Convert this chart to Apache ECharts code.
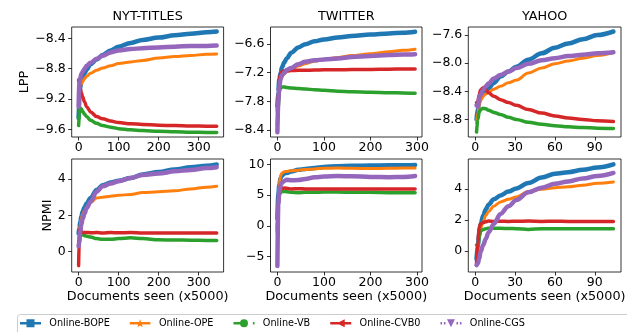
<!DOCTYPE html>
<html>
<head>
<meta charset="utf-8">
<script src="https://cdn.jsdelivr.net/npm/echarts@6/dist/echarts.min.js"></script>
<style>
  html, body { margin: 0; padding: 0; background: #fff; }
  #chart { width: 627px; height: 332px; }
</style>
</head>
<body>
<div id="chart"></div>
<script>
// ---- x positions (documents seen, x5000) ----
const NYT_X     = [0, 2, 4, 7, 10, 15, 20, 30, 45, 60, 80, 100, 130, 160, 200, 240, 280, 320, 345];
const TWITTER_X = [0, 2, 4, 7, 10, 15, 20, 30, 45, 60, 80, 100, 130, 160, 200, 240, 270, 296];
const YAHOO_X   = [1, 2, 3, 4, 6, 8, 10, 14, 19, 25, 31, 40, 50, 60, 70, 81, 92, 104];

// ---- LPP ----
const NYT_LPP_BOPE = [-9.45, -9.2, -9.05, -8.97, -8.91, -8.86, -8.81, -8.74, -8.68, -8.62, -8.56, -8.51, -8.46, -8.42, -8.39, -8.36, -8.34, -8.32, -8.31];
const NYT_LPP_OPE  = [-9.3, -9.15, -9.05, -9.0, -8.97, -8.93, -8.9, -8.86, -8.82, -8.79, -8.76, -8.73, -8.71, -8.69, -8.66, -8.64, -8.625, -8.61, -8.605];
const NYT_LPP_VB   = [-9.55, -9.4, -9.32, -9.33, -9.36, -9.4, -9.43, -9.48, -9.52, -9.55, -9.57, -9.59, -9.605, -9.615, -9.625, -9.632, -9.637, -9.64, -9.64];
const NYT_LPP_CVB0 = [-8.95, -9.0, -9.06, -9.12, -9.17, -9.24, -9.3, -9.37, -9.43, -9.46, -9.49, -9.51, -9.525, -9.535, -9.545, -9.55, -9.555, -9.557, -9.558];
const NYT_LPP_CGS  = [-9.3, -9.0, -8.92, -8.87, -8.84, -8.8, -8.76, -8.72, -8.67, -8.63, -8.585, -8.56, -8.54, -8.53, -8.52, -8.51, -8.5, -8.5, -8.495];

const TWITTER_LPP_BOPE = [-7.9, -7.6, -7.35, -7.2, -7.08, -6.98, -6.9, -6.78, -6.67, -6.6, -6.54, -6.5, -6.46, -6.43, -6.4, -6.375, -6.36, -6.34];
const TWITTER_LPP_OPE  = [-7.95, -7.7, -7.5, -7.35, -7.28, -7.22, -7.18, -7.14, -7.06, -7.01, -6.96, -6.92, -6.88, -6.84, -6.8, -6.76, -6.73, -6.705];
const TWITTER_LPP_VB   = [-8.3, -7.9, -7.6, -7.52, -7.5, -7.5, -7.51, -7.52, -7.53, -7.54, -7.56, -7.57, -7.59, -7.6, -7.61, -7.62, -7.625, -7.63];
const TWITTER_LPP_CVB0 = [-8.0, -7.6, -7.35, -7.22, -7.18, -7.16, -7.16, -7.155, -7.15, -7.15, -7.145, -7.14, -7.14, -7.135, -7.13, -7.125, -7.12, -7.12];
const TWITTER_LPP_CGS  = [-8.45, -7.8, -7.5, -7.33, -7.25, -7.2, -7.14, -7.1, -7.02, -6.97, -6.94, -6.92, -6.9, -6.87, -6.85, -6.83, -6.82, -6.81];

const YAHOO_LPP_BOPE = [-8.8, -8.65, -8.55, -8.5, -8.43, -8.4, -8.36, -8.28, -8.19, -8.12, -8.05, -7.95, -7.86, -7.78, -7.72, -7.66, -7.6, -7.55];
const YAHOO_LPP_OPE  = [-8.85, -8.7, -8.6, -8.53, -8.47, -8.44, -8.41, -8.37, -8.33, -8.28, -8.24, -8.14, -8.07, -8.01, -7.97, -7.93, -7.89, -7.85];
const YAHOO_LPP_VB   = [-8.98, -8.8, -8.7, -8.66, -8.64, -8.65, -8.67, -8.7, -8.73, -8.77, -8.8, -8.84, -8.87, -8.89, -8.905, -8.915, -8.925, -8.93];
const YAHOO_LPP_CVB0 = [-8.56, -8.55, -8.45, -8.38, -8.35, -8.38, -8.42, -8.47, -8.52, -8.56, -8.6, -8.66, -8.71, -8.75, -8.78, -8.8, -8.82, -8.83];
const YAHOO_LPP_CGS  = [-8.6, -8.62, -8.5, -8.45, -8.38, -8.33, -8.29, -8.22, -8.17, -8.12, -8.07, -8.01, -7.96, -7.93, -7.9, -7.88, -7.86, -7.845];

// ---- NPMI ----
const NYT_NPMI_BOPE = [1.0, 1.3, 1.65, 1.95, 2.2, 2.45, 2.65, 2.95, 3.4, 3.65, 3.8, 3.9, 4.05, 4.25, 4.38, 4.52, 4.65, 4.73, 4.8];
const NYT_NPMI_OPE  = [0.8, 1.0, 1.5, 1.8, 2.05, 2.25, 2.45, 2.7, 2.95, 3.0, 3.05, 3.1, 3.15, 3.25, 3.3, 3.35, 3.45, 3.55, 3.6];
const NYT_NPMI_VB   = [0.5, 0.8, 1.0, 0.95, 0.92, 0.88, 0.85, 0.8, 0.72, 0.68, 0.68, 0.72, 0.76, 0.72, 0.65, 0.64, 0.63, 0.62, 0.62];
const NYT_NPMI_CVB0 = [-0.77, 0.9, 1.3, 1.1, 1.05, 1.05, 1.06, 1.04, 1.05, 1.03, 1.05, 1.04, 1.05, 1.02, 1.03, 1.02, 1.03, 1.02, 1.03];
const NYT_NPMI_CGS  = [0.3, 0.55, 1.1, 1.5, 1.8, 2.1, 2.4, 2.75, 3.3, 3.6, 3.75, 3.88, 4.05, 4.22, 4.3, 4.42, 4.5, 4.6, 4.65];

const TWITTER_NPMI_BOPE = [1.2, 5.0, 6.6, 7.8, 8.2, 8.5, 8.6, 8.85, 9.1, 9.25, 9.4, 9.55, 9.7, 9.75, 9.8, 9.85, 9.85, 9.9];
const TWITTER_NPMI_OPE  = [-1.5, 4.5, 6.8, 8.2, 8.6, 8.8, 8.85, 8.95, 9.05, 9.15, 9.25, 9.35, 9.38, 9.35, 9.3, 9.35, 9.4, 9.4];
const TWITTER_NPMI_VB   = [-0.5, 3.5, 5.0, 5.4, 5.6, 5.6, 5.55, 5.45, 5.4, 5.45, 5.45, 5.5, 5.5, 5.45, 5.45, 5.4, 5.4, 5.4];
const TWITTER_NPMI_CVB0 = [-1.0, 4.0, 5.5, 5.9, 6.1, 6.15, 6.1, 6.0, 6.05, 6.0, 6.0, 6.0, 6.0, 6.0, 6.0, 6.0, 6.0, 6.0];
const TWITTER_NPMI_CGS  = [-6.5, 3.5, 5.5, 6.6, 7.0, 7.3, 7.5, 7.4, 7.45, 7.6, 7.9, 8.0, 8.1, 8.05, 7.95, 7.9, 7.95, 8.1];

const YAHOO_NPMI_BOPE = [-0.5, 0.4, 1.1, 1.7, 2.3, 2.7, 3.0, 3.35, 3.6, 3.85, 4.05, 4.4, 4.75, 5.0, 5.1, 5.25, 5.4, 5.6];
const YAHOO_NPMI_OPE  = [-0.9, 0.3, 1.0, 1.5, 1.9, 2.3, 2.55, 2.9, 3.18, 3.35, 3.5, 3.85, 4.0, 4.1, 4.15, 4.26, 4.38, 4.47];
const YAHOO_NPMI_VB   = [0.4, 0.3, 0.9, 1.3, 1.4, 1.45, 1.48, 1.48, 1.47, 1.46, 1.45, 1.4, 1.45, 1.44, 1.45, 1.44, 1.45, 1.45];
const YAHOO_NPMI_CVB0 = [-0.8, 0.6, 1.5, 1.75, 1.85, 1.9, 1.95, 1.92, 1.93, 1.92, 1.93, 1.94, 1.92, 1.93, 1.92, 1.91, 1.92, 1.92];
const YAHOO_NPMI_CGS  = [-0.9, -0.8, -0.5, -0.05, 0.4, 0.8, 1.2, 1.75, 2.4, 2.9, 3.3, 3.8, 4.1, 4.35, 4.5, 4.69, 4.85, 5.05];

// ---- tick labels ----
const X_TICKS_LONG  = [0, 100, 200, 300];
const X_TICKS_YAHOO = [0, 30, 60, 90];
const Y_TICKS_NYT_LPP     = [-9.6, -9.2, -8.8, -8.4];
const Y_TICKS_TWITTER_LPP = [-8.4, -7.8, -7.2, -6.6];
const Y_TICKS_YAHOO_LPP   = [-8.8, -8.4, -8.0, -7.6];
const Y_TICKS_NYT_NPMI     = [0, 2, 4];
const Y_TICKS_TWITTER_NPMI = [-5, 0, 5, 10];
const Y_TICKS_YAHOO_NPMI   = [0, 2, 4];

const DATASETS = ['NYT-TITLES', 'TWITTER', 'YAHOO'];
const METHODS = ['Online-BOPE', 'Online-OPE', 'Online-VB', 'Online-CVB0', 'Online-CGS'];
const COLORS = ['#1f77b4', '#ff7f0e', '#2ca02c', '#d62728', '#9467bd'];
const BAND_WIDTH = [4.5, 3, 3.5, 3.5, 4.5];

// legend glyphs (21 x 8 box): line segment with the method's marker in the middle
const LINE = 'M0,2.75 H21 V5.25 H0 Z';
const LEGEND_ICONS = [
  'path://' + LINE + ' M6.5,0 H14.5 V8 H6.5 Z',
  'path://' + LINE + ' M10.5,0 L11.62,2.96 L14.78,3.11 L12.31,5.09 L13.15,8.14 L10.5,6.4 L7.85,8.14 L8.69,5.09 L6.22,3.11 L9.38,2.96 Z',
  'path://M0,2.75 H6.6 V5.25 H0 Z M6.5,4 A4,4 0 1,1 14.5,4 A4,4 0 1,1 6.5,4 Z M19.4,2.75 H21 V5.25 H19.4 Z',
  'path://' + LINE + ' M6.5,4 L14.5,0 L14.5,8 Z',
  'path://M0,2.75 H1.6 V5.25 H0 Z M3.4,2.75 H5 V5.25 H3.4 Z M6.5,0 L14.5,0 L10.5,8 Z M16,2.75 H17.6 V5.25 H16 Z M19.4,2.75 H21 V5.25 H19.4 Z'
];

// panel layout: [left, right] columns, [top, height] rows
const COLS = [[71.7, 223.6], [270.5, 422], [468.3, 621]];
const ROWS = [[27, 110], [159, 113]];

const panels = [
  { row: 0, col: 0, x: NYT_X,     xr: [-17.25, 362.25], yr: [-9.70, -8.25], xt: X_TICKS_LONG,  yt: Y_TICKS_NYT_LPP,     dec: 1,
    s: [NYT_LPP_BOPE, NYT_LPP_OPE, NYT_LPP_VB, NYT_LPP_CVB0, NYT_LPP_CGS], yname: 'LPP', ygap: 39 },
  { row: 0, col: 1, x: TWITTER_X, xr: [-14.8, 310.8],   yr: [-8.55, -6.24], xt: X_TICKS_LONG,  yt: Y_TICKS_TWITTER_LPP, dec: 1,
    s: [TWITTER_LPP_BOPE, TWITTER_LPP_OPE, TWITTER_LPP_VB, TWITTER_LPP_CVB0, TWITTER_LPP_CGS] },
  { row: 0, col: 2, x: YAHOO_X,   xr: [-5.2, 109.7],    yr: [-9.05, -7.486], xt: X_TICKS_YAHOO, yt: Y_TICKS_YAHOO_LPP,  dec: 1,
    s: [YAHOO_LPP_BOPE, YAHOO_LPP_OPE, YAHOO_LPP_VB, YAHOO_LPP_CVB0, YAHOO_LPP_CGS] },
  { row: 1, col: 0, x: NYT_X,     xr: [-17.25, 362.25], yr: [-1.12, 5.1],   xt: X_TICKS_LONG,  yt: Y_TICKS_NYT_NPMI,     dec: 0,
    s: [NYT_NPMI_BOPE, NYT_NPMI_OPE, NYT_NPMI_VB, NYT_NPMI_CVB0, NYT_NPMI_CGS], yname: 'NPMI', ygap: 16 },
  { row: 1, col: 1, x: TWITTER_X, xr: [-14.8, 310.8],   yr: [-7.48, 10.86], xt: X_TICKS_LONG,  yt: Y_TICKS_TWITTER_NPMI, dec: 0,
    s: [TWITTER_NPMI_BOPE, TWITTER_NPMI_OPE, TWITTER_NPMI_VB, TWITTER_NPMI_CVB0, TWITTER_NPMI_CGS] },
  { row: 1, col: 2, x: YAHOO_X,   xr: [-5.2, 109.7],    yr: [-1.35, 5.95],  xt: X_TICKS_YAHOO, yt: Y_TICKS_YAHOO_NPMI,   dec: 0,
    s: [YAHOO_NPMI_BOPE, YAHOO_NPMI_OPE, YAHOO_NPMI_VB, YAHOO_NPMI_CVB0, YAHOO_NPMI_CGS] }
];

const FONT = 'DejaVu Sans';
const fmt = dec => v => (v < 0 ? '\u2212' : '') + Math.abs(v).toFixed(dec);

const grid = [], xAxis = [], yAxis = [], series = [];
panels.forEach((p, i) => {
  const [l, r] = COLS[p.col];
  const [t, h] = ROWS[p.row];
  grid.push({ left: l, top: t, width: r - l, height: h, show: true, borderColor: '#000', borderWidth: 0.8,
              backgroundColor: 'transparent', containLabel: false, outerBoundsMode: 'none' });
  xAxis.push({
    type: 'value', gridIndex: i, min: p.xr[0], max: p.xr[1], position: 'bottom',
    axisLine: { show: false, onZero: false }, splitLine: { show: false },
    axisTick: { customValues: p.xt, length: 3.5, lineStyle: { color: '#000', width: 0.8 } },
    axisLabel: { customValues: p.xt, margin: 4.5, fontSize: 12.5, color: '#000', fontFamily: FONT },
    name: p.row === 1 ? 'Documents seen (x5000)' : '',
    nameLocation: 'middle', nameGap: 17,
    nameTextStyle: { fontSize: 12.8, color: '#000', fontFamily: FONT }
  });
  yAxis.push({
    type: 'value', gridIndex: i, min: p.yr[0], max: p.yr[1], position: 'left',
    axisLine: { show: false, onZero: false }, splitLine: { show: false },
    axisTick: { customValues: p.yt, length: 3.5, lineStyle: { color: '#000', width: 0.8 } },
    axisLabel: { customValues: p.yt, margin: 6, fontSize: 12.5, color: '#000', fontFamily: FONT, formatter: fmt(p.dec) },
    name: p.yname || '', nameLocation: 'middle', nameGap: p.ygap || 0, nameRotate: 90,
    nameTextStyle: { fontSize: 12.8, color: '#000', fontFamily: FONT }
  });
  p.s.forEach((vals, k) => {
    series.push({
      type: 'line', name: METHODS[k], xAxisIndex: i, yAxisIndex: i,
      data: p.x.map((x, j) => [x, vals[j]]),
      smooth: 0.35, smoothMonotone: 'x',
      symbol: 'none', showSymbol: false,
      lineStyle: { color: COLORS[k], width: BAND_WIDTH[k], cap: 'round', join: 'round' },
      itemStyle: { color: COLORS[k] },
      emphasis: { disabled: true }, silent: true, animation: false,
      clip: true
    });
  });
});

// panel titles
const titles = DATASETS.map((name, c) => ({
  type: 'text', x: (COLS[c][0] + COLS[c][1]) / 2, y: 16.2,
  style: { text: name, fill: '#000', font: '12.8px "DejaVu Sans"', textAlign: 'center', textVerticalAlign: 'middle' }
}));

const chart = echarts.init(document.getElementById('chart'), null, { renderer: 'canvas' });
chart.setOption({
  animation: false,
  backgroundColor: '#fff',
  grid, xAxis, yAxis, series,
  legend: {
    left: 20, top: 318.3, padding: 0, orient: 'horizontal',
    itemWidth: 21, itemHeight: 8, itemGap: 20,
    selectedMode: false,
    textStyle: { fontSize: 9.7, color: '#000', fontFamily: FONT, padding: [0, 0, 0, 3.3] },
    data: METHODS.map((m, k) => ({ name: m, icon: LEGEND_ICONS[k], itemStyle: { color: COLORS[k], borderWidth: 0 } }))
  },
  graphic: [
    ...titles,
    { type: 'rect', shape: { x: 17.5, y: 314.5, width: 640, height: 40, r: 3 },
      style: { fill: 'none', stroke: '#cccccc', lineWidth: 1 }, z: -1 }
  ]
});
</script>
</body>
</html>
